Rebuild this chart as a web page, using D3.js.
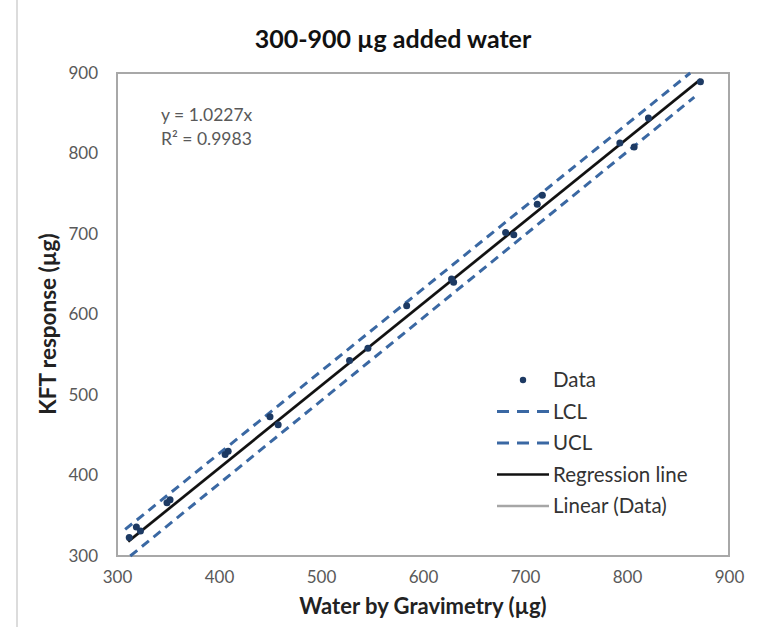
<!DOCTYPE html>
<html><head><meta charset="utf-8">
<script src="https://cdn.jsdelivr.net/npm/d3@7"></script>
<style>body{margin:0;background:#fff}svg{display:block}</style>
</head><body>
<script>
const title = "300-900 µg added water";
const xLabel = "Water by Gravimetry (µg)";
const yLabel = "KFT response (µg)";
const xTicks = [300, 400, 500, 600, 700, 800, 900];
const yTicks = [300, 400, 500, 600, 700, 800, 900];
const dataX = [312, 319, 323, 349, 352, 406, 409, 450, 458, 528, 546, 584, 628, 630, 681, 689, 712, 717, 793, 807, 821, 872];
const dataY = [323, 336, 331, 366, 370, 426, 430, 473, 463, 543, 558, 611, 644, 640, 702, 699, 737, 748, 813, 808, 844, 889];
const regX = [311, 872];
const regY = [318, 892];
const lclX = [313, 866];
const lclY = [300, 870];
const uclX = [308, 862];
const uclY = [333, 900];
const eqLines = ["y = 1.0227x", "R² = 0.9983"];
const legendLabels = ["Data", "LCL", "UCL", "Regression line", "Linear (Data)"];

const W = 760, H = 627;
const svg = d3.select("body").append("svg").attr("width", W).attr("height", H);
const font = "Lato, 'Open Sans', sans-serif";
const L = 117, R = 729, T = 73, B = 556;
const x = d3.scaleLinear().domain([300, 900]).range([L, R]);
const y = d3.scaleLinear().domain([300, 900]).range([B, T]);

svg.append("line").attr("x1", 17).attr("x2", 17).attr("y1", 0).attr("y2", H)
  .attr("stroke", "#d0d0d0").attr("stroke-width", 1.5);

svg.append("text").attr("x", 393).attr("y", 48).attr("text-anchor", "middle")
  .attr("font-family", font).attr("font-weight", "bold").attr("font-size", 25)
  .attr("fill", "#111").text(title);

// plot frame
svg.append("rect").attr("x", L).attr("y", T).attr("width", R - L).attr("height", B - T)
  .attr("fill", "none").attr("stroke", "#a8a8a8").attr("stroke-width", 2);

// axes (labels only)
const xa = svg.append("g").attr("transform", `translate(0,${B})`)
  .call(d3.axisBottom(x).tickValues(xTicks).tickSize(0).tickPadding(15));
const ya = svg.append("g").attr("transform", `translate(${L},0)`)
  .call(d3.axisLeft(y).tickValues(yTicks).tickSize(0).tickPadding(19));
[xa, ya].forEach(a => {
  a.select(".domain").remove();
  a.selectAll("text").attr("font-family", font).attr("font-size", 17).attr("fill", "#595959");
});

svg.append("text").attr("x", 423).attr("y", 614).attr("text-anchor", "middle")
  .attr("font-family", font).attr("font-weight", "bold").attr("font-size", 22)
  .attr("fill", "#222").text(xLabel);
svg.append("text").attr("transform", "translate(56,324) rotate(-90)").attr("text-anchor", "middle")
  .attr("font-family", font).attr("font-weight", "bold").attr("font-size", 22.5)
  .attr("fill", "#222").text(yLabel);

const blue = "#3a68a3";
const line = (xs, ys) => d3.line()(xs.map((v, i) => [x(v), y(ys[i])]));
svg.append("path").attr("d", line(lclX, lclY)).attr("fill", "none")
  .attr("stroke", blue).attr("stroke-width", 3).attr("stroke-dasharray", "9,6");
svg.append("path").attr("d", line(uclX, uclY)).attr("fill", "none")
  .attr("stroke", blue).attr("stroke-width", 3).attr("stroke-dasharray", "9,6");
svg.append("path").attr("d", line(regX, regY)).attr("fill", "none")
  .attr("stroke", "#a6a6a6").attr("stroke-width", 3);
svg.append("path").attr("d", line(regX, regY)).attr("fill", "none")
  .attr("stroke", "#111").attr("stroke-width", 2.5);

svg.selectAll("circle.pt").data(dataX).join("circle").attr("class", "pt")
  .attr("cx", d => x(d)).attr("cy", (d, i) => y(dataY[i])).attr("r", 3.5)
  .attr("fill", "#1d3a63");

eqLines.forEach((t, i) => {
  svg.append("text").attr("x", 161).attr("y", 121 + i * 24)
    .attr("font-family", font).attr("font-size", 17.5).attr("fill", "#595959").text(t);
});

// legend
const ly0 = 380, lstep = 31.5;
const lg = svg.append("g");
legendLabels.forEach((t, i) => {
  const yy = ly0 + i * lstep;
  lg.append("text").attr("x", 553).attr("y", yy + 7).attr("font-family", font)
    .attr("font-size", 20.5).attr("fill", "#333").text(t);
  if (i === 0) {
    lg.append("circle").attr("cx", 523).attr("cy", yy).attr("r", 3.2).attr("fill", "#1d3a63");
  } else if (i < 3) {
    lg.append("line").attr("x1", 497).attr("x2", 549).attr("y1", yy).attr("y2", yy)
      .attr("stroke", blue).attr("stroke-width", 3).attr("stroke-dasharray", "12,8");
  } else {
    lg.append("line").attr("x1", 497).attr("x2", 549).attr("y1", yy).attr("y2", yy)
      .attr("stroke", i === 3 ? "#111" : "#a6a6a6").attr("stroke-width", 2.5);
  }
});
</script>
</body></html>
